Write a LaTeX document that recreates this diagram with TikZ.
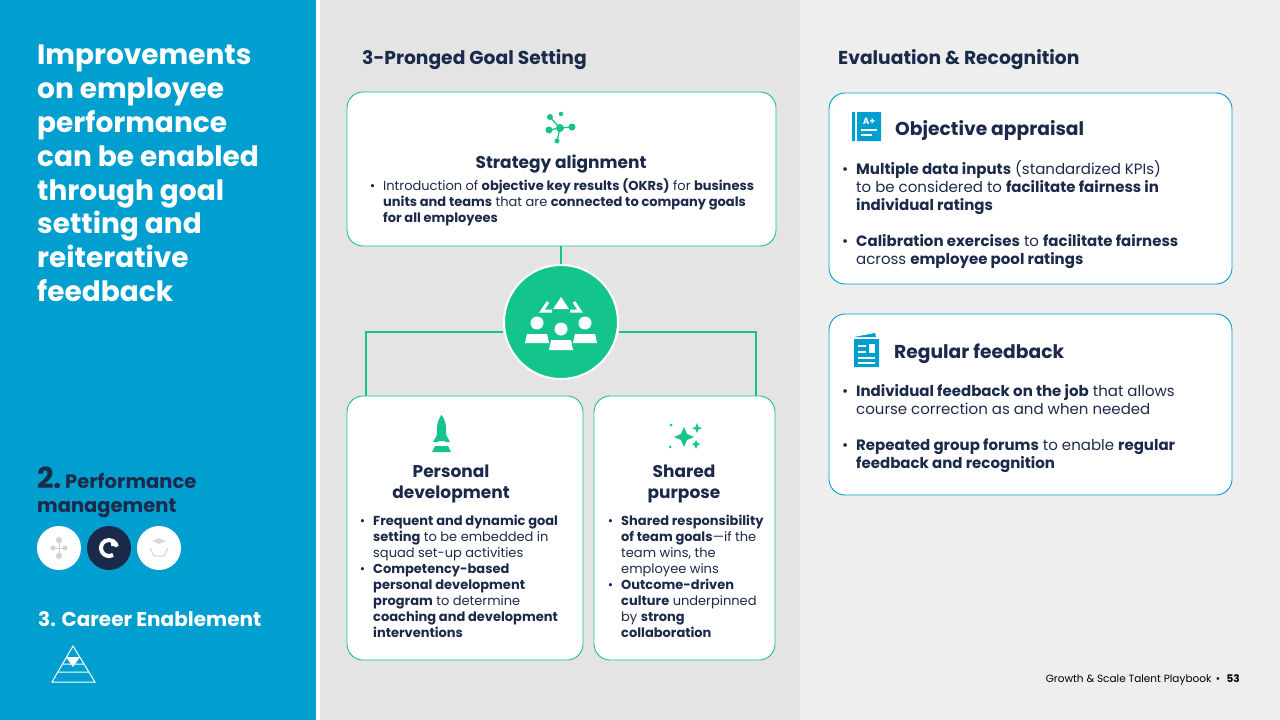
\documentclass[tikz,border=0pt]{standalone}
\usepackage{fontspec}
\setmainfont{Poppins}
\usetikzlibrary{positioning}
\definecolor{blu}{HTML}{009FCF}
\definecolor{navy}{HTML}{1B2A4A}
\definecolor{grn}{HTML}{13C58D}
\definecolor{gA}{HTML}{E4E4E4}
\definecolor{gB}{HTML}{EEEEEE}
\tikzset{
 gbox/.style={draw=grn,line width=0.9pt,fill=white,rounded corners=16pt},
 bbox/.style={draw=blu,line width=0.9pt,fill=white,rounded corners=16pt},
 conn/.style={draw=grn,line width=1.5pt},
 body/.style={font=\fontsize{13}{16}\selectfont,text=navy,align=left,inner sep=0pt},
 head/.style={font=\fontsize{17}{21}\selectfont\bfseries,text=navy,align=center,inner sep=0pt},
}
\newcommand{\bl}[1]{\textbf{#1}}
\newenvironment{blist}[2][0pt]{\begin{minipage}{#2}\raggedright\hyphenpenalty=10000\exhyphenpenalty=10000\begin{list}{\textbullet}{\leftmargin=18pt\labelwidth=10pt\labelsep=8pt\itemsep=#1\parsep=0pt\topsep=0pt}\raggedright}{\end{list}\end{minipage}}
\begin{document}
\begin{tikzpicture}[x=1pt,y=-1pt]
\useasboundingbox (0,0) rectangle (1280,720);
\fill[blu] (0,0) rectangle (316,720);
\fill[white] (316,0) rectangle (320,720);
\fill[gA] (320,0) rectangle (800,720);
\fill[gB] (800,0) rectangle (1280,720);
% left panel
\node[anchor=north west,inner sep=0pt,text=white,align=left,font=\fontsize{28}{33.8}\selectfont\bfseries] (title) at (37,45)
{Improvements\\on employee\\performance\\can be enabled\\through goal\\setting and\\reiterative\\feedback};
\node[anchor=north west,inner sep=0pt,text=navy,align=left,font=\fontsize{19.5}{24}\selectfont\bfseries] (pm) at (37,467)
{{\fontsize{29}{28}\selectfont 2.}\,Performance\\management};
\node[circle,fill=white,minimum size=44pt,inner sep=0pt] (c1) at (59,548) {};
\node[circle,fill=navy,minimum size=44pt,inner sep=0pt] (c2) at (109,548) {};
\node[circle,fill=white,minimum size=44pt,inner sep=0pt] (c3) at (159,548) {};
\fill[gray!35] (59,540) circle (3) (53,548) circle (2.5) (65,548) circle (2.5) (59,556) circle (3);
\draw[gray!35,line width=1pt] (53,548)--(65,548) (59,540)--(59,556);
\draw[white,line width=4pt] (109,548) ++(60:8) arc (60:350:8);
\fill[white] (111,539) -- (118,546) -- (111,546) -- cycle;
\draw[gray!30,line width=1.2pt] (150,548) -- (154,556) -- (164,556) -- (168,548);
\fill[gray!30] (159,538) -- (166,541) -- (159,544) -- (152,541) -- cycle;
\node[anchor=north west,inner sep=0pt,text=white,font=\fontsize{20}{24}\selectfont\bfseries] (ce) at (38,611) {3. Career Enablement};
\draw[white,line width=1pt] (52,682) -- (73,646) -- (95,682) -- cycle (58,672)--(89,672) (62,664)--(84,664);
\fill[white] (66,657) -- (80,657) -- (73,667) -- cycle;
% headings
\node[anchor=west,inner sep=0pt,text=navy,font=\fontsize{18.7}{22}\selectfont\bfseries] (h1) at (362,60) {3-Pronged Goal Setting};
\node[anchor=west,inner sep=0pt,text=navy,font=\fontsize{18.7}{22}\selectfont\bfseries] (h2) at (838,60) {Evaluation \& Recognition};
% boxes
\draw[gbox] (347,92) rectangle (776,246);
\coordinate (b1s) at (561,246);
\draw[gbox] (347,396) rectangle (583,660);
\draw[gbox] (594,396) rectangle (775,660);
% connectors
\node[circle,fill=grn,draw=white,line width=2pt,minimum size=114pt,inner sep=0pt] (hub) at (561,322) {};
\coordinate (lt) at (366,332); \coordinate (lb) at (366,396);
\coordinate (rt) at (756,332); \coordinate (rb) at (756,396);
\draw[conn] (b1s) -- (hub.north);
\draw[conn] (hub.west |- lt) -- (lt) -- (lb);
\draw[conn] (hub.east |- rt) -- (rt) -- (rb);
% hub icon
\fill[white] (561,297) -- (569,309) -- (553,309) -- cycle;
\draw[white,line width=3pt] (548,302) -- (542,311) -- (552,311) (574,302) -- (580,311) -- (570,311);
\fill[white] (537,323) circle (6.5) (585,323) circle (6.5) (561,329) circle (6.5);
\fill[white] (525,343) -- (527,334) -- (547,334) -- (549,343) -- cycle;
\fill[white] (573,343) -- (575,334) -- (595,334) -- (597,343) -- cycle;
\fill[white] (549,350) -- (551,340) -- (571,340) -- (573,350) -- cycle;
% box1 content
\fill[grn] (550,117) circle (3) (561,114) circle (2.2) (560,128) circle (4) (572,127) circle (3.5) (549,130) circle (3.5) (557,141) circle (2.5);
\draw[grn,line width=1.3pt] (550,117)--(560,128)--(572,127) (560,128)--(549,130) (560,128)--(557,141);
\node[head] (s1) at (561,164) {Strategy alignment};
\node[body,anchor=north west] (t1) at (365,178) {\begin{blist}{395pt}\item Introduction of \bl{objective key results (OKRs)} for \bl{business units and teams} that are \bl{connected to company goals} \bl{for all employees}\end{blist}};
% box2
\fill[grn] (432,452) -- (451,452) -- (448,446) -- (435,446) -- cycle;
\fill[grn] (441.5,415) .. controls (447,422) and (447,432) .. (445,441) -- (438,441) .. controls (436,432) and (436,422) .. (441.5,415);
\fill[grn] (438,433) -- (433,442) -- (438,442) (445,433) -- (450,442) -- (445,442);
\node[head] (s2) at (451,484) {Personal\\development};
\node[body,anchor=north west] (t2) at (355,515) {\begin{blist}{225pt}\item \bl{Frequent and dynamic goal}\\ \bl{setting} to be embedded in\\ squad set-up activities
\item \bl{Competency-based}\\ \bl{personal development}\\ \bl{program} to determine\\ \bl{coaching and development}\\ \bl{interventions}\end{blist}};
% box3
\fill[grn] (684,427) -- (687,434) -- (694,437) -- (687,440) -- (684,447) -- (681,440) -- (674,437) -- (681,434) -- cycle;
\fill[grn] (697,423) -- (698.5,427) -- (702,428) -- (698.5,429.5) -- (697,433) -- (695.5,429.5) -- (692,428) -- (695.5,427) -- cycle;
\fill[grn] (696,440) -- (697.5,443) -- (700,444) -- (697.5,445.5) -- (696,449) -- (694.5,445.5) -- (692,444) -- (694.5,443) -- cycle;
\fill[grn] (671,425) circle (1.5) (670,447) circle (1.5);
\node[head] (s3) at (684,484) {Shared\\purpose};
\node[body,anchor=north west] (t3) at (603,515) {\begin{blist}{175pt}\item \bl{Shared responsibility}\\ \bl{of team goals}—if the\\ team wins, the\\ employee wins
\item \bl{Outcome-driven}\\ \bl{culture} underpinned\\ by \bl{strong}\\ \bl{collaboration}\end{blist}};
% right boxes
\draw[bbox] (829,93) rectangle (1232,284);
\draw[bbox] (829,314) rectangle (1232,495);
\fill[blu] (852,112) rectangle (855,141) (857,112) rectangle (881,141);
\node[inner sep=0pt,text=white,font=\fontsize{9}{9}\selectfont\bfseries] (ap) at (869,121) {A+};
\draw[white,line width=1.2pt] (861,130)--(877,130) (861,135)--(872,135);
\node[anchor=west,inner sep=0pt,text=navy,font=\fontsize{18.7}{22}\selectfont\bfseries] (oa) at (895,130) {Objective appraisal};
\node[body,anchor=north west,font=\fontsize{15}{18}\selectfont] (ta) at (838,160) {\begin{blist}[18pt]{345pt}\item \bl{Multiple data inputs} (standardized KPIs)\\ to be considered to \bl{facilitate fairness in individual ratings}
\item \bl{Calibration exercises} to \bl{facilitate fairness} across \bl{employee pool ratings}\end{blist}};
\fill[blu] (854,337) -- (875,333) -- (876,337) -- cycle (854,339) rectangle (879,367);
\draw[white,line width=1.5pt] (858,346)--(866,346) (858,352)--(866,352) (858,358)--(875,358) (858,363)--(875,363);
\fill[white] (869,344) rectangle (875,353);
\node[anchor=west,inner sep=0pt,text=navy,font=\fontsize{18.7}{22}\selectfont\bfseries] (rf) at (894,354) {Regular feedback};
\node[body,anchor=north west,font=\fontsize{15}{18}\selectfont] (tb) at (838,384) {\begin{blist}[18pt]{345pt}\item \bl{Individual feedback on the job} that allows course correction as and when needed
\item \bl{Repeated group forums} to enable \bl{regular feedback and recognition}\end{blist}};
\node[anchor=east,inner sep=0pt,text=black,font=\fontsize{10.5}{12}\selectfont] (ft) at (1240,680) {Growth \& Scale Talent Playbook \,\textbullet\,\, \textbf{53}};
\end{tikzpicture}
\end{document}
